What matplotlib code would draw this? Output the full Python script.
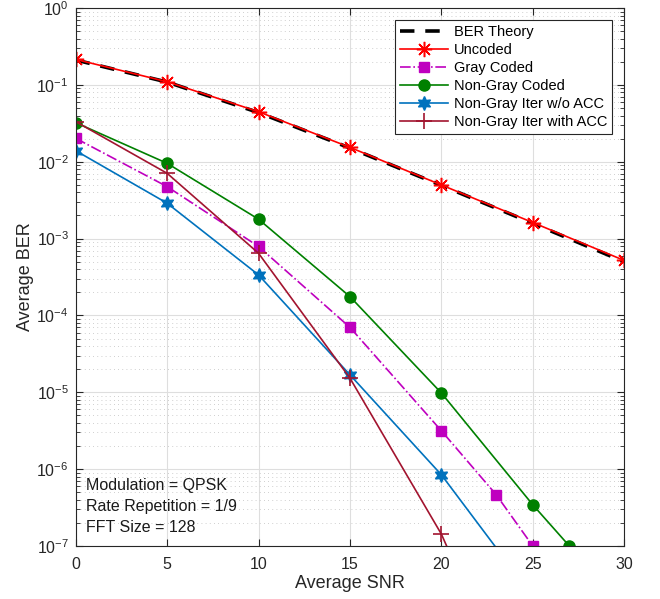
import numpy as np
import matplotlib
matplotlib.use("Agg")
import matplotlib.pyplot as plt
from matplotlib.ticker import LogLocator, NullFormatter, MultipleLocator

plt.rcParams["font.family"] = ["Liberation Sans", "DejaVu Sans"]
plt.rcParams["mathtext.fontset"] = "custom"
plt.rcParams["mathtext.rm"] = "Liberation Sans"

# ---- data -----------------------------------------------------------------
snr_theory = [0, 5, 10, 15, 20, 25, 30]
ber_theory = [0.211, 0.109, 0.0437, 0.0151, 0.00493, 0.00158, 5.0e-4]

snr_uncoded = [0, 5, 10, 15, 20, 25, 30]
ber_uncoded = [0.215, 0.110, 0.0448, 0.0154, 0.00499, 0.00162, 5.2e-4]

snr_gray = [0, 5, 10, 15, 20, 23, 25]
ber_gray = [0.0202, 0.00475, 7.9e-4, 7.0e-5, 3.16e-6, 4.65e-7, 1.0e-7]

snr_ngray = [0, 5, 10, 15, 20, 25, 27]
ber_ngray = [0.0323, 0.00955, 0.00179, 1.76e-4, 9.8e-6, 3.44e-7, 1.0e-7]

snr_iter = [0, 5, 10, 15, 20, 25]
ber_iter = [0.01395, 0.00289, 3.37e-4, 1.69e-5, 8.45e-7, 2.2e-8]

snr_acc = [0, 5, 10, 15, 20, 25]
ber_acc = [0.0333, 0.00708, 6.45e-4, 1.53e-5, 1.43e-7, 3.0e-10]

y_ticks = [1e-7, 1e-6, 1e-5, 1e-4, 1e-3, 1e-2, 1e-1, 1e0]
info_lines = ["Modulation = QPSK", "Rate Repetition = 1/9", "FFT Size = 128"]

# ---- figure ---------------------------------------------------------------
fig = plt.figure(figsize=(6.6, 5.99), dpi=100)
ax = fig.add_axes([0.1147, 0.0885, 0.831, 0.898])

ax.semilogy(snr_theory, ber_theory, color="k", lw=2.6, dashes=(4, 3),
            label="BER Theory")
ax.semilogy(snr_uncoded, ber_uncoded, color="r", lw=1.2, marker=(8, 2, 0),
            ms=11, mew=1.1, label="Uncoded")
ax.semilogy(snr_gray, ber_gray, color="m", lw=1.2, ls="-.", marker="s", ms=7,
            label="Gray Coded")
ax.semilogy(snr_ngray, ber_ngray, color="g", lw=1.2, marker="o", ms=8,
            label="Non-Gray Coded")
ax.semilogy(snr_iter, ber_iter, color="#0072BD", lw=1.2, marker=(6, 1, 0),
            ms=10, label="Non-Gray Iter w/o ACC")
ax.semilogy(snr_acc, ber_acc, color="#A2142F", lw=1.2, marker="+", ms=11,
            mew=1.2, label="Non-Gray Iter with ACC")

ax.set_xlim(0, 30)
ax.set_ylim(1e-7, 1e0)
ax.xaxis.set_major_locator(MultipleLocator(5))
ax.set_yticks(y_ticks)
ax.yaxis.set_minor_locator(LogLocator(base=10, subs=np.arange(2, 10), numticks=20))
ax.yaxis.set_minor_formatter(NullFormatter())

ax.grid(True, which="major", color="0.87", lw=0.8)
ax.grid(True, which="minor", axis="y", color="0.75", lw=0.6, ls=(0, (1, 4)))
ax.set_axisbelow(True)

for s in ax.spines.values():
    s.set_color("0.15")
    s.set_linewidth(0.8)
ax.tick_params(which="both", direction="in", top=True, right=True,
               colors="0.15", labelsize=11.5)
ax.tick_params(which="major", length=5)
ax.tick_params(which="minor", length=3)
ax.tick_params(axis="x", which="major", pad=8)
ax.tick_params(axis="y", which="major", pad=5)

ax.set_xlabel("Average SNR", fontsize=13, color="0.15", labelpad=2)
ax.set_ylabel("Average BER", fontsize=13, color="0.15", labelpad=1.5)

leg = ax.legend(loc="upper right", fontsize=10.5, handlelength=3.3,
                borderaxespad=0.8, fancybox=False, framealpha=1,
                edgecolor="0.15", borderpad=0.35, labelspacing=0.28,
                handletextpad=0.4)
leg.get_frame().set_linewidth(0.8)

ax.text(0.019, 0.0725, "\n".join(info_lines), transform=ax.transAxes,
        ha="left", va="center", fontsize=11.5, linespacing=1.5,
        color="0.1")

fig.savefig("out.png", dpi=100)
